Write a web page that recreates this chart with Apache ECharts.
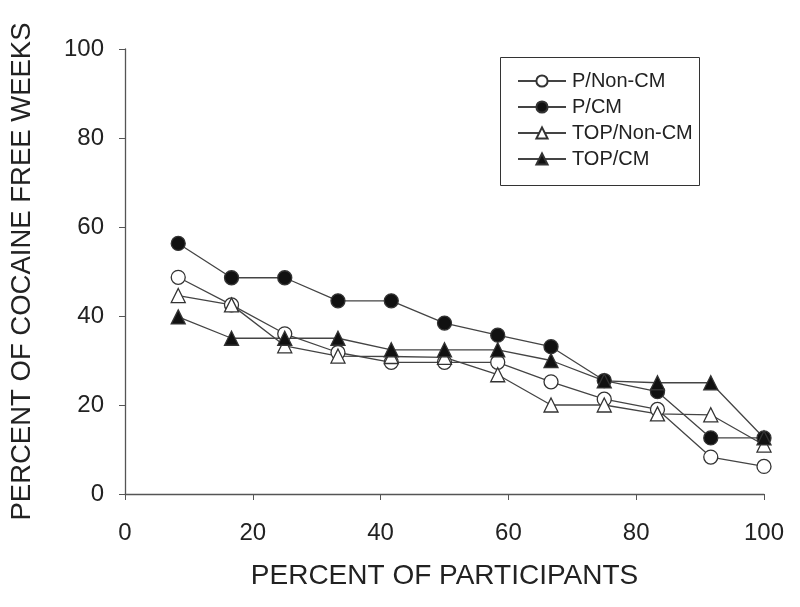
<!DOCTYPE html>
<html>
<head>
<meta charset="utf-8">
<script src="https://cdn.jsdelivr.net/npm/echarts@6/dist/echarts.min.js"></script>
<style>html,body{margin:0;padding:0;background:#fff}#c{width:800px;height:607px}</style>
</head>
<body>
<div id="c"></div>
<script>
var xValues = [8.33, 16.67, 25, 33.33, 41.67, 50, 58.33, 66.67, 75, 83.33, 91.67, 100];
var pNonCM   = [48.7, 42.5, 36.0, 31.8, 29.6, 29.6, 29.6, 25.2, 21.3, 19.0, 8.3, 6.2];
var pCM      = [56.3, 48.6, 48.6, 43.4, 43.4, 38.4, 35.7, 33.1, 25.5, 23.0, 12.6, 12.6];
var topNonCM = [44.6, 42.5, 33.3, 31.0, 30.9, 30.7, 26.8, 20.0, 20.0, 18.0, 17.8, 11.0];
var topCM    = [39.8, 35.0, 35.0, 35.0, 32.4, 32.4, 32.4, 30.0, 25.4, 25.0, 25.0, 12.6];
var seriesNames = ['P/Non-CM', 'P/CM', 'TOP/Non-CM', 'TOP/CM'];
var xTicks = [0, 20, 40, 60, 80, 100];
var yTicks = [0, 20, 40, 60, 80, 100];

function pairs(ys) { return xValues.map(function (x, i) { return [x, ys[i]]; }); }

var lineColor = '#444';
function mk(name, ys, symbol, filled, size) {
  return {
    name: name, type: 'line', data: pairs(ys),
    symbol: symbol, symbolSize: size,
    lineStyle: { color: lineColor, width: 1.3 },
    itemStyle: { color: filled ? '#111' : '#fff', borderColor: '#333', borderWidth: 1.3 },
    emphasis: { disabled: true }, animation: false
  };
}

var chart = echarts.init(document.getElementById('c'), null, { renderer: 'canvas' });
var font = 'Liberation Sans, Arial, sans-serif';
chart.setOption({
  animation: false,
  grid: { left: 125, right: 36, top: 49, bottom: 113 },
  xAxis: {
    type: 'value', min: xTicks[0], max: xTicks[xTicks.length - 1], interval: 20,
    name: 'PERCENT OF PARTICIPANTS', nameLocation: 'middle', nameGap: 68,
    nameTextStyle: { fontFamily: font, fontSize: 28, color: '#222' },
    axisLine: { show: true, lineStyle: { color: '#555', width: 1.3 } },
    axisTick: { show: true, inside: false, length: 6, lineStyle: { color: '#555' } },
    axisLabel: { fontFamily: font, fontSize: 24, color: '#222', margin: 27 },
    splitLine: { show: false }
  },
  yAxis: {
    type: 'value', min: yTicks[0], max: yTicks[yTicks.length - 1], interval: 20,
    name: 'PERCENT OF COCAINE FREE WEEKS', nameLocation: 'middle', nameGap: 89, nameRotate: 90,
    nameTextStyle: { fontFamily: font, fontSize: 27.5, color: '#222' },
    axisLine: { show: true, lineStyle: { color: '#555', width: 1.3 } },
    axisTick: { show: true, inside: false, length: 6, lineStyle: { color: '#555' } },
    axisLabel: { fontFamily: font, fontSize: 24, color: '#222', margin: 21 },
    splitLine: { show: false }
  },
  legend: {
    orient: 'vertical', left: 512, top: 66,
    itemWidth: 48, itemHeight: 14, itemGap: 6,
    textStyle: { fontFamily: font, fontSize: 20, color: '#222', padding: [0, 0, 0, 1] },
    data: seriesNames
  },
  graphic: [{
    type: 'rect', left: 498, top: 55, shape: { width: 199, height: 128 },
    style: { fill: 'none', stroke: '#333', lineWidth: 1 }, silent: true
  }],
  series: [
    mk(seriesNames[0], pNonCM, 'circle', false, 14),
    mk(seriesNames[1], pCM, 'circle', true, 14),
    mk(seriesNames[2], topNonCM, 'triangle', false, 14),
    mk(seriesNames[3], topCM, 'triangle', true, 14)
  ]
});
</script>
</body>
</html>
